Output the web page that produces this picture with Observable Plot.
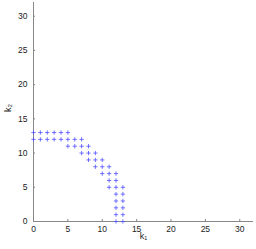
<!DOCTYPE html>
<html><head><meta charset="utf-8">
<script src="https://cdn.jsdelivr.net/npm/d3@7"></script>
<script src="https://cdn.jsdelivr.net/npm/@observablehq/plot@0.6"></script>
<style>body{margin:0;background:#fff}</style>
</head><body><div id="chart"></div>
<script>
const k1 = [0,1,2,3,4,5, 0,1,2,3,4,5,6,7, 5,6,7,8, 7,8,9, 8,9,10, 9,10,11, 10,11,12, 11,12, 11,12,13, 12,13, 12,13, 12,13, 12,13, 12,13];
const k2 = [13,13,13,13,13,13, 12,12,12,12,12,12,12,12, 11,11,11,11, 10,10,10, 9,9,9, 8,8,8, 7,7,7, 6,6, 5,5,5, 4,4, 3,3, 2,2, 1,1, 0,0];
const ticks = [0,5,10,15,20,25,30];
const pts = k1.map((x,i)=>({x, y:k2[i]}));
const chart = Plot.plot({
  width: 256, height: 249,
  marginLeft: 33, marginRight: 3, marginTop: 2, marginBottom: 28,
  style: {fontFamily: "Liberation Sans, Arial, sans-serif", fontSize: "8.5px", color: "#222", background: "#fff"},
  x: {domain: [0,32]},
  y: {domain: [0,32]},
  marks: [
    Plot.axisX({ticks, tickSize: 0, tickPadding: 4, label: null}),
    Plot.axisY({ticks, tickSize: 0, tickPadding: 6, label: null}),
    Plot.ruleX(ticks.filter(t=>t>0), {x: d=>d, y1: 0, y2: 0.3, stroke: "#888"}),
    Plot.ruleY(ticks.filter(t=>t>0), {y: d=>d, x1: 0, x2: 0.3, stroke: "#888"}),
    Plot.ruleY([0], {stroke: "#888"}),
    Plot.ruleX([0], {stroke: "#888"}),
    Plot.dot(pts, {x: "x", y: "y", symbol: "plus", r: 1.5, stroke: "#5050ff", strokeWidth: 0.8}),
    Plot.text(["k₁"], {frameAnchor: "bottom", dy: 17, fontSize: 9, fill: "#222"}),
    Plot.text(["k₂"], {frameAnchor: "left", dx: -25, rotate: -90, fontSize: 9, fill: "#222"})
  ]
});
document.getElementById("chart").appendChild(chart);
</script></body></html>
